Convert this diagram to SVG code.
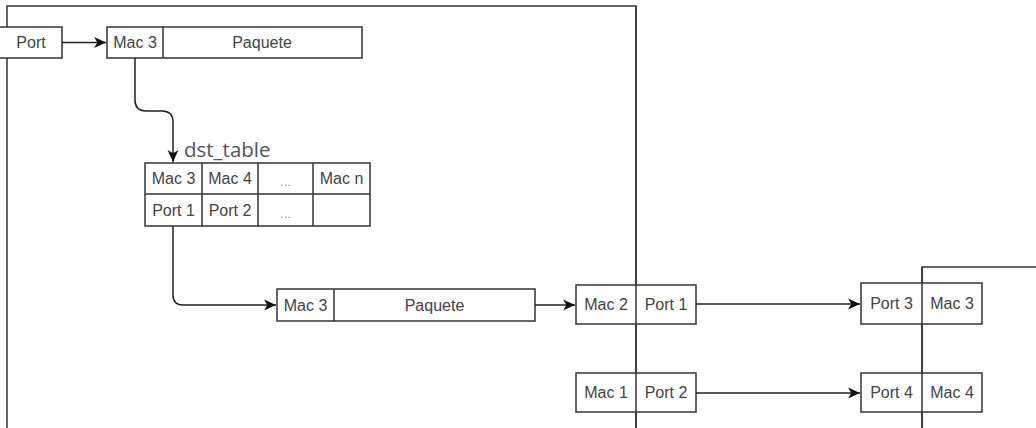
<svg xmlns="http://www.w3.org/2000/svg" width="1036" height="428" viewBox="0 0 1036 428">
<style>
.frame{fill:none;stroke:#333;stroke-width:1.5}
.box{fill:#fff;stroke:#333;stroke-width:1.5}
.div{stroke:#333;stroke-width:1.5}
.t{font-family:"Liberation Sans",Arial,sans-serif;font-size:16px;fill:#444;text-anchor:middle}
.dots{font-family:"Liberation Sans",Arial,sans-serif;font-size:13px;fill:#888;text-anchor:middle}
.lbl{font-family:"Open Sans","Liberation Sans",sans-serif;font-size:20.5px;fill:#555}
.c{fill:none;stroke:#222;stroke-width:1.5}
</style>
<defs>
<marker id="ah" viewBox="0 0 12 12" refX="11" refY="6" markerWidth="13" markerHeight="13" markerUnits="userSpaceOnUse" orient="auto">
<path d="M0,1 L11,6 L0,11 L3,6 Z" fill="#111"/>
</marker>
</defs>
<g id="frames">
<rect class="frame" x="7" y="6" width="629" height="440"/>
<path class="frame" d="M922,440 V267 H1040"/>
</g>
<g id="port-in">
<rect class="box" x="-2" y="27" width="64" height="31"/>
<text class="t" x="31" y="48">Port</text>
</g>
<g id="packet-in">
<rect class="box" x="107" y="27" width="255" height="31"/>
<line class="div" x1="163" y1="27" x2="163" y2="58"/>
<text class="t" x="135" y="48">Mac 3</text>
<text class="t" x="262" y="48">Paquete</text>
</g>
<g id="dst-table">
<text class="lbl" x="184" y="157">dst_table</text>
<rect class="box" x="145" y="163" width="225" height="63"/>
<line class="div" x1="145" y1="194" x2="370" y2="194"/>
<line class="div" x1="202" y1="163" x2="202" y2="226"/>
<line class="div" x1="258" y1="163" x2="258" y2="226"/>
<line class="div" x1="313" y1="163" x2="313" y2="226"/>
<text class="t" x="173.5" y="184">Mac 3</text>
<text class="t" x="230" y="184">Mac 4</text>
<text class="dots" x="285.5" y="186">...</text>
<text class="t" x="341.5" y="184">Mac n</text>
<text class="t" x="173.5" y="216">Port 1</text>
<text class="t" x="230" y="216">Port 2</text>
<text class="dots" x="285.5" y="218">...</text>
</g>
<g id="packet-out">
<rect class="box" x="277" y="289" width="258" height="32"/>
<line class="div" x1="334" y1="289" x2="334" y2="321"/>
<text class="t" x="305.5" y="311">Mac 3</text>
<text class="t" x="434.5" y="311">Paquete</text>
</g>
<g id="sw1-a">
<rect class="box" x="576" y="285" width="120" height="39"/>
<text class="t" x="606" y="310">Mac 2</text>
<text class="t" x="666" y="310">Port 1</text>
</g>
<g id="sw1-b">
<rect class="box" x="576" y="373" width="120" height="39"/>
<text class="t" x="606" y="398">Mac 1</text>
<text class="t" x="666" y="398">Port 2</text>
</g>
<g id="sw2-a">
<rect class="box" x="861" y="283" width="121" height="41"/>
<text class="t" x="891.5" y="309">Port 3</text>
<text class="t" x="952" y="309">Mac 3</text>
</g>
<g id="sw2-b">
<rect class="box" x="861" y="373" width="121" height="39"/>
<text class="t" x="891.5" y="398">Port 4</text>
<text class="t" x="952" y="398">Mac 4</text>
</g>
<g id="frame-lines">
<line class="div" x1="636" y1="6" x2="636" y2="440"/>
<line class="div" x1="922" y1="267" x2="922" y2="440"/>
</g>
<g id="connectors">
<path class="c" d="M62,42.5 H106" marker-end="url(#ah)"/>
<path class="c" d="M135,58 V100 Q135,111 146,111 H162 Q173,111 173,122 V162" marker-end="url(#ah)"/>
<path class="c" d="M173,226 V295 Q173,305 183,305 H276" marker-end="url(#ah)"/>
<path class="c" d="M535,305 H575" marker-end="url(#ah)"/>
<path class="c" d="M696,304 H860" marker-end="url(#ah)"/>
<path class="c" d="M696,393 H860" marker-end="url(#ah)"/>
</g>
</svg>
